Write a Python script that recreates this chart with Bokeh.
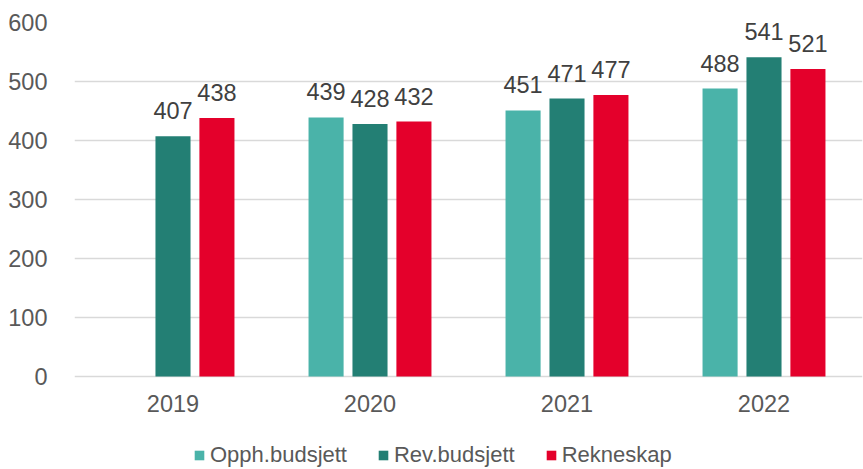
from bokeh.plotting import figure
from bokeh.models import (ColumnDataSource, Range1d, FixedTicker, Legend, LegendItem,
                          LabelSet)
from bokeh.core.properties import value
from bokeh.transform import dodge
from bokeh.embed import file_html
from bokeh.resources import INLINE

years = ["2019", "2020", "2021", "2022"]
opph_budsjett = [None, 439, 451, 488]
rev_budsjett = [407, 428, 471, 541]
rekneskap = [438, 432, 477, 521]
series_names = ["Opph.budsjett", "Rev.budsjett", "Rekneskap"]
series_colors = ["#4AB3A9", "#237F74", "#E4002B"]
y_ticks = [0, 100, 200, 300, 400, 500, 600]

FONT = "Liberation Sans"
NUM_SIZE = "23.5px"

# frame extends below zero so that the category labels and legend live inside it
p = figure(width=863, height=469, output_backend="svg", toolbar_location=None,
           x_range=Range1d(0, 4.0), y_range=Range1d(-156, 600),
           min_border_left=74, min_border_right=1, min_border_top=22, min_border_bottom=1)
p.outline_line_color = None
p.background_fill_color = "white"
p.border_fill_color = "white"

p.xgrid.grid_line_color = None
p.ygrid.grid_line_color = "#D9D9D9"
p.ygrid.grid_line_width = 1.3
p.xaxis.visible = False

p.yaxis.ticker = FixedTicker(ticks=y_ticks)
p.yaxis.axis_line_color = None
p.yaxis.major_tick_line_color = None
p.yaxis.minor_tick_line_color = None
p.yaxis.major_label_text_font = FONT
p.yaxis.major_label_text_font_size = NUM_SIZE
p.yaxis.major_label_text_color = "#595959"
p.yaxis.major_label_standoff = 21

# category labels
cat_src = ColumnDataSource(dict(x=[i + 0.5 for i in range(len(years))],
                                y=[0] * len(years), label=years))
p.add_layout(LabelSet(x="x", y="y", text="label", source=cat_src, y_offset=-36,
                      text_align="center", text_baseline="alphabetic",
                      text_font=value(FONT), text_font_size=value(NUM_SIZE),
                      text_color="#595959"))

offsets = [-0.223, 0.0, 0.223]
all_series = [opph_budsjett, rev_budsjett, rekneskap]
items = []
for name, vals, col, off in zip(series_names, all_series, series_colors, offsets):
    xs = [i + 0.5 for i, v in enumerate(vals) if v is not None]
    vs = [v for v in vals if v is not None]
    src = ColumnDataSource(dict(x=xs, value=vs, label=[str(v) for v in vs]))
    r = p.vbar(x=dodge("x", off, range=p.x_range), top="value", bottom=0, width=0.178,
               source=src, fill_color=col, line_color=None)
    items.append(LegendItem(label=name, renderers=[r]))
    labels = LabelSet(x=dodge("x", off, range=p.x_range), y="value", text="label",
                      source=src, y_offset=17, text_align="center",
                      text_baseline="alphabetic", text_font=value(FONT),
                      text_font_size=value(NUM_SIZE), text_color="#404040")
    p.add_layout(labels)

legend = Legend(items=items, orientation="horizontal", location=(119, 0),
                glyph_width=12, glyph_height=12, label_standoff=5, spacing=30,
                padding=0, margin=0, border_line_color=None, background_fill_alpha=0,
                label_text_font=FONT, label_text_font_size="22px",
                label_text_color="#595959", label_height=22)
p.add_layout(legend, "center")

open("out.html", "w").write(file_html(p, INLINE))
